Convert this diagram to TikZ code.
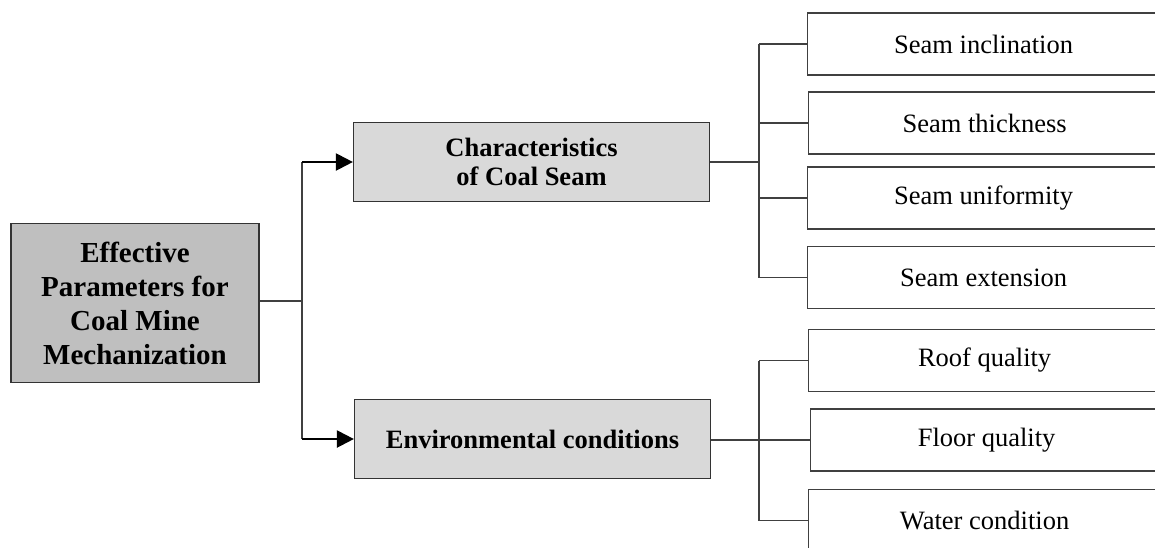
\documentclass[tikz,border=0pt]{standalone}
\usepackage{fontspec}
\setmainfont{Liberation Serif}
\usetikzlibrary{arrows.meta}
\begin{document}
\begin{tikzpicture}[x=0.5pt,y=-0.5pt,
  rootbox/.style={draw=black!80, fill=black!25, line width=0.6pt, inner sep=0pt,
    minimum width=124pt, minimum height=79.5pt, align=center,
    font=\fontsize{14.5pt}{17pt}\selectfont\bfseries},
  midbox/.style={draw=black!80, fill=black!15, line width=0.6pt, inner sep=0pt,
    minimum width=178pt, minimum height=39.5pt, align=center,
    font=\fontsize{13.25pt}{14.5pt}\selectfont\bfseries},
  leafbox/.style={draw=black!75, fill=white, line width=0.6pt, inner sep=0pt,
    minimum width=176pt, minimum height=31pt, anchor=west, align=center,
    font=\fontsize{13.25pt}{14.5pt}\selectfont},
  link/.style={draw=black!75, line width=0.55pt},
  arrowlink/.style={draw=black, line width=1.1pt, -{Triangle[length=8.5pt,width=8.5pt]}}
]
\useasboundingbox (0,0) rectangle (1155,547);
\clip (0,0) rectangle (1155,547);

\node[rootbox] (root) at (135,303) {Effective\\Parameters for\\Coal Mine\\Mechanization};
\node[midbox] (char) at (531.5,162) {Characteristics\\of Coal Seam};
\node[midbox] (env) at (532.5,439) {Environmental conditions};

\node[leafbox] (l1) at (807,44) {Seam inclination};
\node[leafbox] (l2) at (808,123) {Seam thickness};
\node[leafbox] (l3) at (807,198) {Seam uniformity};
\node[leafbox] (l4) at (807,277.5) {Seam extension};
\node[leafbox] (l5) at (808,360.5) {Roof quality};
\node[leafbox] (l6) at (810,440) {Floor quality};
\node[leafbox] (l7) at (808,520.5) {Water condition};

\coordinate (j0) at (302,301);
\coordinate (j1) at (759,162);
\coordinate (j2) at (759,440);

\draw[link] (root.east |- j0) -- (j0);
\draw[link] (j0 |- char.west) -- (j0 |- env.west);
\draw[arrowlink] (j0 |- char.west) -- (char.west);
\draw[arrowlink] (j0 |- env.west) -- (env.west);

\draw[link] (char.east) -- (char.east -| j1);
\draw[link] (j1 |- l1.west) -- (j1 |- l4.west);
\foreach \n in {l1,l2,l3,l4} \draw[link] (j1 |- \n.west) -- (\n.west);

\draw[link] (env.east |- j2) -- (j2);
\draw[link] (j2 |- l5.west) -- (j2 |- l7.west);
\foreach \n in {l5,l6,l7} \draw[link] (j2 |- \n.west) -- (\n.west);
\end{tikzpicture}
\end{document}
